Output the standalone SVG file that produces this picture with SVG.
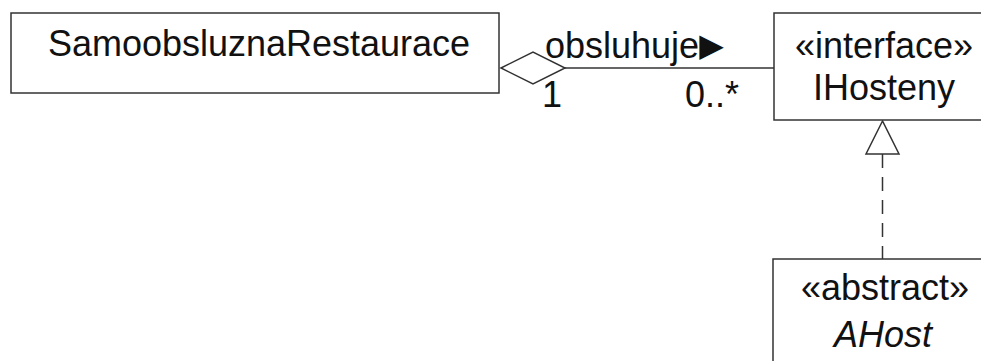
<svg xmlns="http://www.w3.org/2000/svg" width="981" height="361" viewBox="0 0 981 361">
<style>
.box{fill:#fff;stroke:#333;stroke-width:1.5}
.ln{fill:none;stroke:#333;stroke-width:1.5}
text{font-family:"Liberation Sans",Arial,sans-serif;font-size:36px;fill:#111}
.c{text-anchor:middle}
</style>
<rect width="981" height="361" fill="#fff"/>
<g id="connectors">
<line class="ln" x1="565" y1="68" x2="774" y2="68"/>
<polygon class="ln" points="501,68 533,52 565,68 533,84" fill="#fff"/>
<text x="545" y="58">obsluhuje<tspan font-family="DejaVu Sans,sans-serif" font-size="32" dy="-2">▶</tspan></text>
<text x="542" y="107">1</text>
<text x="685" y="107">0..*</text>
<line class="ln" x1="882.5" y1="154" x2="882.5" y2="259" stroke-dasharray="14,9"/>
<polygon class="ln" points="882.5,121 866,154 899,154" fill="#fff"/>
</g>
<g id="SamoobsluznaRestaurace">
<rect class="box" x="11" y="13" width="488" height="80"/>
<text class="c" x="259" y="56">SamoobsluznaRestaurace</text>
</g>
<g id="IHosteny">
<rect class="box" x="774" y="13" width="222" height="107"/>
<text class="c" x="884" y="58">«interface»</text>
<text class="c" x="884" y="100">IHosteny</text>
</g>
<g id="AHost">
<rect class="box" x="773" y="259" width="222" height="120"/>
<text class="c" x="885" y="300">«abstract»</text>
<text class="c" x="883" y="347" font-style="italic">AHost</text>
</g>
</svg>
